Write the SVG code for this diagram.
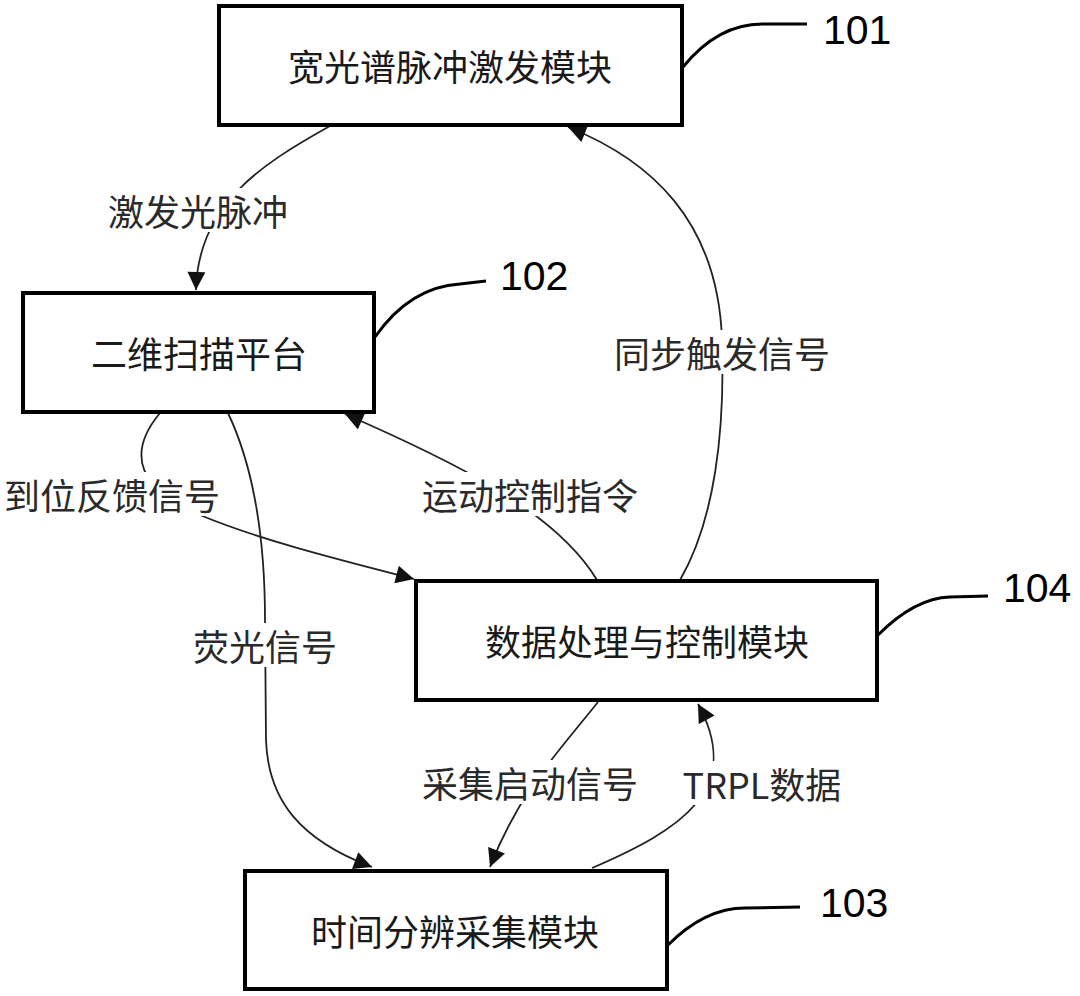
<svg xmlns="http://www.w3.org/2000/svg" width="1080" height="996" viewBox="0 0 1080 996">
<style>
.box{fill:#fff;stroke:#000;stroke-width:4}
.bt{font-family:"Noto Sans CJK SC","Noto Sans",sans-serif;font-size:36px;fill:#1a1a1a;text-anchor:middle;dominant-baseline:central}
.lb{font-family:"Noto Sans CJK SC","Noto Sans",sans-serif;font-size:36px;fill:#2a2a2a;text-anchor:middle;dominant-baseline:central}
.num{font-family:"Liberation Sans",Arial,sans-serif;font-size:41px;fill:#000}
.ld{fill:none;stroke:#000;stroke-width:3}
.cn{fill:none;stroke:#222;stroke-width:1.8}
.bg{fill:#fff}
</style>
<defs>
<marker id="ah" viewBox="0 0 10 10" refX="10" refY="5" markerWidth="19" markerHeight="18" markerUnits="userSpaceOnUse" orient="auto">
<path d="M0,0 L10,5 L0,10 z" fill="#111"/>
</marker>
</defs>
<rect width="1080" height="996" fill="#fff"/>
<g id="connectors">
<path class="cn" d="M330,126 C 260,165 198,205 196,290" marker-end="url(#ah)"/>
<path class="cn" d="M680,580 C 715,520 725,430 722,340 C 718,220 650,160 568,127" marker-end="url(#ah)"/>
<path class="cn" d="M597,580 C 555,510 450,460 345,414" marker-end="url(#ah)"/>
<path class="cn" d="M160,413 C 125,455 140,490 200,515 C 260,540 340,560 414,579" marker-end="url(#ah)"/>
<path class="cn" d="M228,413 C 255,470 265,540 265,620 L 266,740 C 268,800 300,840 372,867" marker-end="url(#ah)"/>
<path class="cn" d="M598,702 C 560,750 520,790 490,867" marker-end="url(#ah)"/>
<path class="cn" d="M592,868 C 680,830 745,790 698,704" marker-end="url(#ah)"/>
<rect class="bg" x="104" y="188" width="192" height="44"/>
<text class="lb" x="198" y="210">激发光脉冲</text>
<rect class="bg" x="610" y="330" width="224" height="44"/>
<text class="lb" x="722" y="352">同步触发信号</text>
<rect class="bg" x="2" y="472" width="220" height="44"/>
<text class="lb" x="112" y="494">到位反馈信号</text>
<rect class="bg" x="418" y="472" width="224" height="44"/>
<text class="lb" x="530" y="494">运动控制指令</text>
<rect class="bg" x="186" y="623" width="158" height="44"/>
<text class="lb" x="265" y="645">荧光信号</text>
<rect class="bg" x="418" y="760" width="224" height="44"/>
<text class="lb" x="530" y="782">采集启动信号</text>
<rect class="bg" x="684" y="761" width="156" height="44"/>
<text class="lb" x="762" y="783">TRPL数据</text>
</g>
<g id="n101">
<rect class="box" x="219" y="6" width="463" height="119"/>
<text class="bt" x="450" y="65">宽光谱脉冲激发模块</text>
<path class="ld" d="M683,67 Q 718,24 762,24 L 807,24"/>
<text class="num" x="823" y="44">101</text>
</g>
<g id="n102">
<rect class="box" x="23" y="293" width="351" height="119"/>
<text class="bt" x="199" y="352">二维扫描平台</text>
<path class="ld" d="M375,337 Q 410,287 460,284 L 486,281"/>
<text class="num" x="500" y="290">102</text>
</g>
<g id="n104">
<rect class="box" x="416" y="581" width="461" height="119"/>
<text class="bt" x="647" y="640">数据处理与控制模块</text>
<path class="ld" d="M878,635 Q 915,598 950,597 L 988,596"/>
<text class="num" x="1003" y="602">104</text>
</g>
<g id="n103">
<rect class="box" x="245" y="871" width="422" height="118"/>
<text class="bt" x="455" y="930">时间分辨采集模块</text>
<path class="ld" d="M668,945 Q 705,908 745,908 L 800,907"/>
<text class="num" x="820" y="917">103</text>
</g>
</svg>
